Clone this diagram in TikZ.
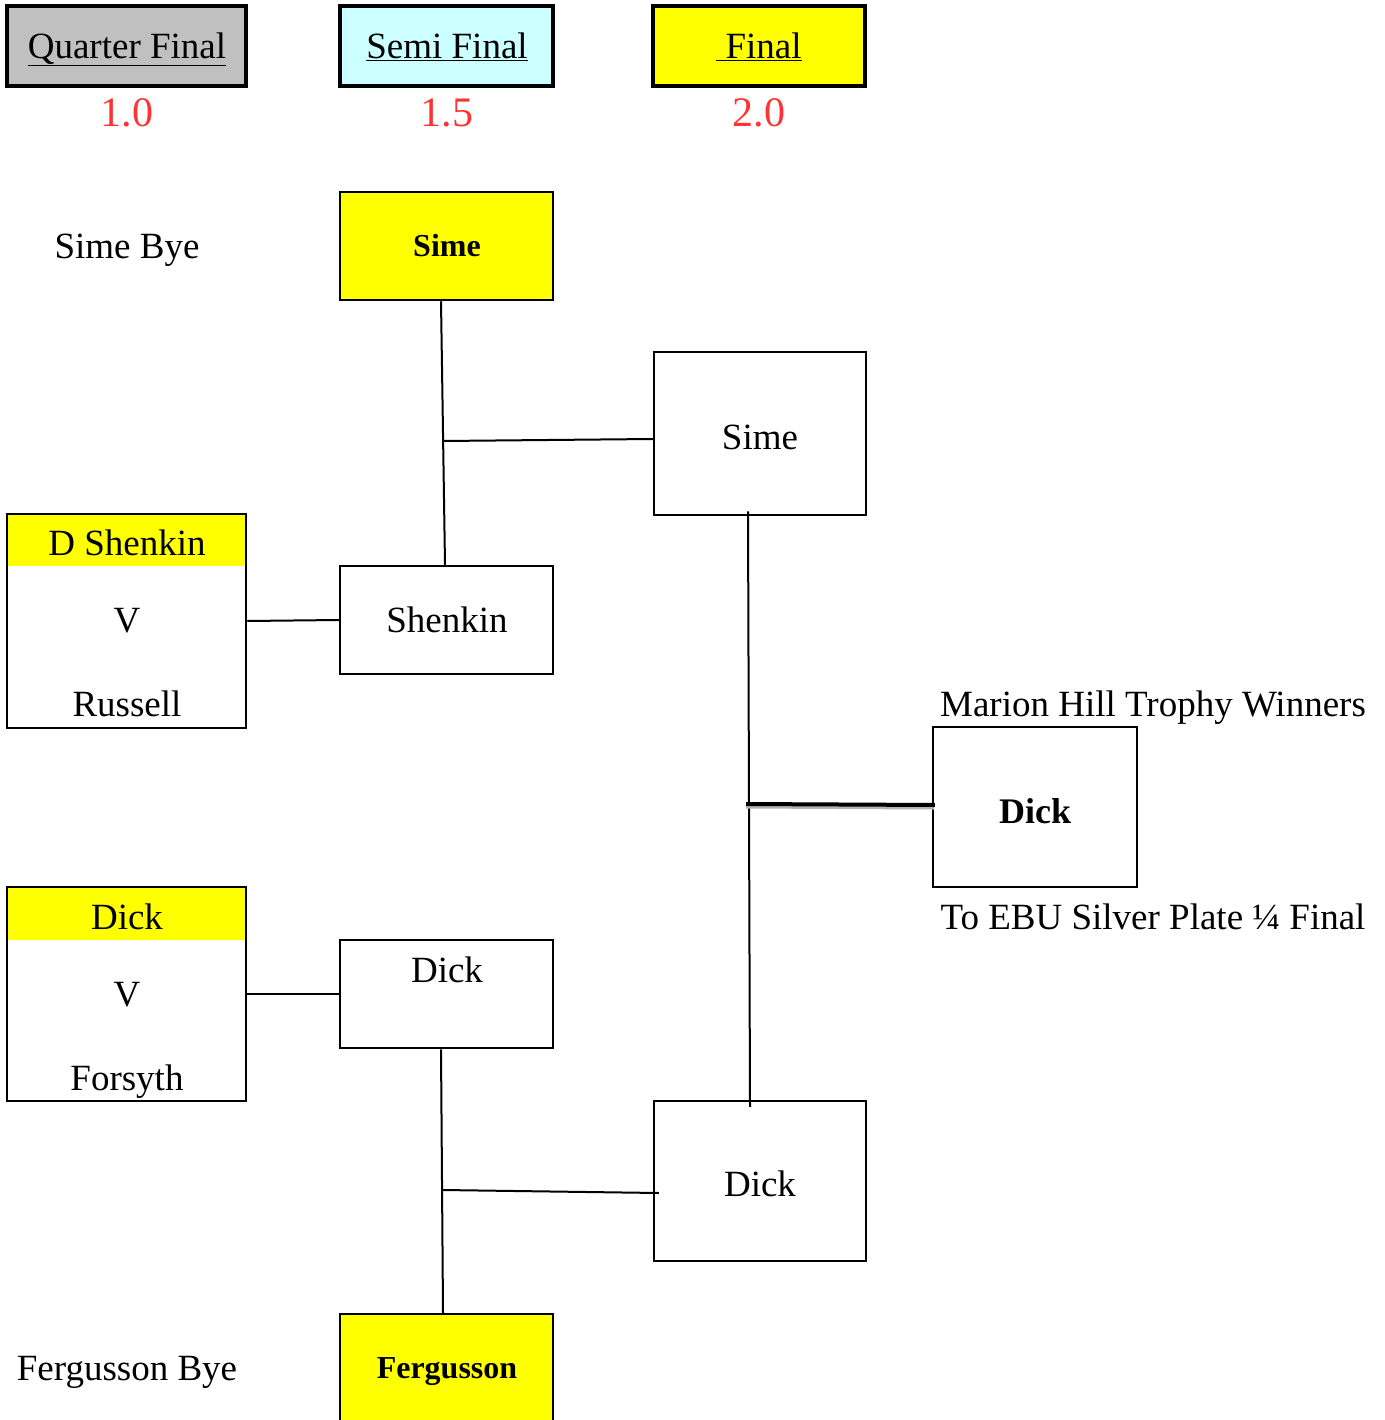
\documentclass[tikz,border=0pt]{standalone}
\usepackage{fontspec}
\setmainfont{Liberation Serif}
\definecolor{hdrgray}{HTML}{C0C0C0}
\definecolor{hdrcyan}{HTML}{CCFFFF}
\definecolor{ylw}{HTML}{FFFF00}
\definecolor{redlbl}{HTML}{FF3333}
\tikzset{
  box/.style={draw=black, line width=2.5pt, inner sep=0pt, minimum width=#1},
  hbox/.style={box=#1, line width=3.5pt, minimum height=80pt},
  txt/.style={inner sep=0pt, text height=24.5pt, text depth=0pt, font=\fontsize{37}{44}\selectfont},
  btxt/.style={inner sep=0pt, text height=21.6pt, text depth=0pt, font=\fontsize{32}{38}\selectfont\bfseries},
  bigbtxt/.style={inner sep=0pt, text height=24.3pt, text depth=0pt, font=\fontsize{36}{42}\selectfont\bfseries},
  rtxt/.style={inner sep=0pt, text height=28.4pt, text depth=0pt, text=redlbl, font=\fontsize{42}{48}\selectfont},
  conn/.style={draw=black, line width=2pt},
}
\begin{document}
\begin{tikzpicture}[x=1pt,y=-1pt]
\useasboundingbox (0,0) rectangle (1384,1420);
\clip (0,0) rectangle (1384,1420);
\fill[white] (0,0) rectangle (1384,1420);

% headers
\node[hbox=239pt, fill=hdrgray] (hq) at (126.5,46) {};
\node[txt] (hqt) at (127,46) {\underline{Quarter Final}};
\node[hbox=213pt, fill=hdrcyan] (hs) at (446.5,46) {};
\node[txt] (hst) at (447,46) {\underline{Semi Final}};
\node[hbox=212pt, fill=ylw] (hf) at (759,46) {};
\node[txt] (hft) at (759,46) {\underline{\ Final}};
\node[rtxt] (rq) at (127,112) {1.0};
\node[rtxt] (rs) at (447,112) {1.5};
\node[rtxt] (rf) at (759,112) {2.0};

% quarter final column
\node[txt] (sbye) at (127,246) {Sime Bye};
\fill[ylw] (7,514) rectangle (246,566);
\node[box=239pt, minimum height=214pt] (m1) at (126.5,621) {};
\node[txt] (m1a) at (127,543) {D Shenkin};
\node[txt] (m1v) at (127,620) {V};
\node[txt] (m1b) at (127,704) {Russell};
\fill[ylw] (7,887) rectangle (246,940);
\node[box=239pt, minimum height=214pt] (m2) at (126.5,994) {};
\node[txt] (m2a) at (127,917) {Dick};
\node[txt] (m2v) at (127,994) {V};
\node[txt] (m2b) at (127,1078) {Forsyth};
\node[txt] (fbye) at (127,1368) {Fergusson Bye};

% semi final column
\node[box=213pt, minimum height=108pt, fill=ylw] (s1) at (446.5,246) {};
\node[btxt] (s1t) at (447,246) {Sime};
\node[box=213pt, minimum height=108pt] (s2) at (446.5,620) {};
\node[txt] (s2t) at (447,620) {Shenkin};
\node[box=213pt, minimum height=108pt] (s3) at (446.5,994) {};
\node[txt] (s3t) at (447,970) {Dick};
\node[box=213pt, minimum height=130pt, fill=ylw] (s4) at (446.5,1379) {};
\node[btxt] (s4t) at (447,1368) {Fergusson};

% final column
\node[box=212pt, minimum height=163pt] (f1) at (760,433.5) {};
\node[txt] (f1t) at (760,437) {Sime};
\node[box=212pt, minimum height=160pt] (f2) at (760,1181) {};
\node[txt] (f2t) at (760,1184) {Dick};

% winner
\node[box=204pt, minimum height=160pt] (w) at (1035,807) {};
\node[bigbtxt] (wt) at (1035,811) {Dick};
\node[txt] (wa) at (1153,704) {Marion Hill Trophy Winners};
\node[txt] (wb) at (1153,917) {To EBU Silver Plate \char"00BC{} Final};

% connectors
\draw[conn] (m1.east) -- (s2.west);
\draw[conn] (m2.east) -- (s3.west);
\draw[conn] ([xshift=-5.5pt]s1.south) -- ([xshift=-1.5pt]s2.north);
\coordinate (j1) at (443,441);
\draw[conn] (j1) -- ([yshift=-5.5pt]f1.west);
\draw[conn] ([xshift=-5.5pt]s3.south) -- ([xshift=-3.5pt]s4.north);
\coordinate (j2) at (443,1190);
\draw[conn] (j2) -- ([xshift=6pt,yshift=-12pt]f2.west);
\draw[conn] ([xshift=-12pt,yshift=5pt]f1.south) -- ([xshift=-10pt,yshift=-7pt]f2.north);
\coordinate (j3) at (746,804);
\draw[draw=gray!60, line width=4pt] ([yshift=-2.5pt]j3) -- ([xshift=2pt,yshift=-0.5pt]w.west);
\draw[draw=black, line width=4pt] (j3) -- ([xshift=3pt,yshift=2pt]w.west);
\end{tikzpicture}
\end{document}
